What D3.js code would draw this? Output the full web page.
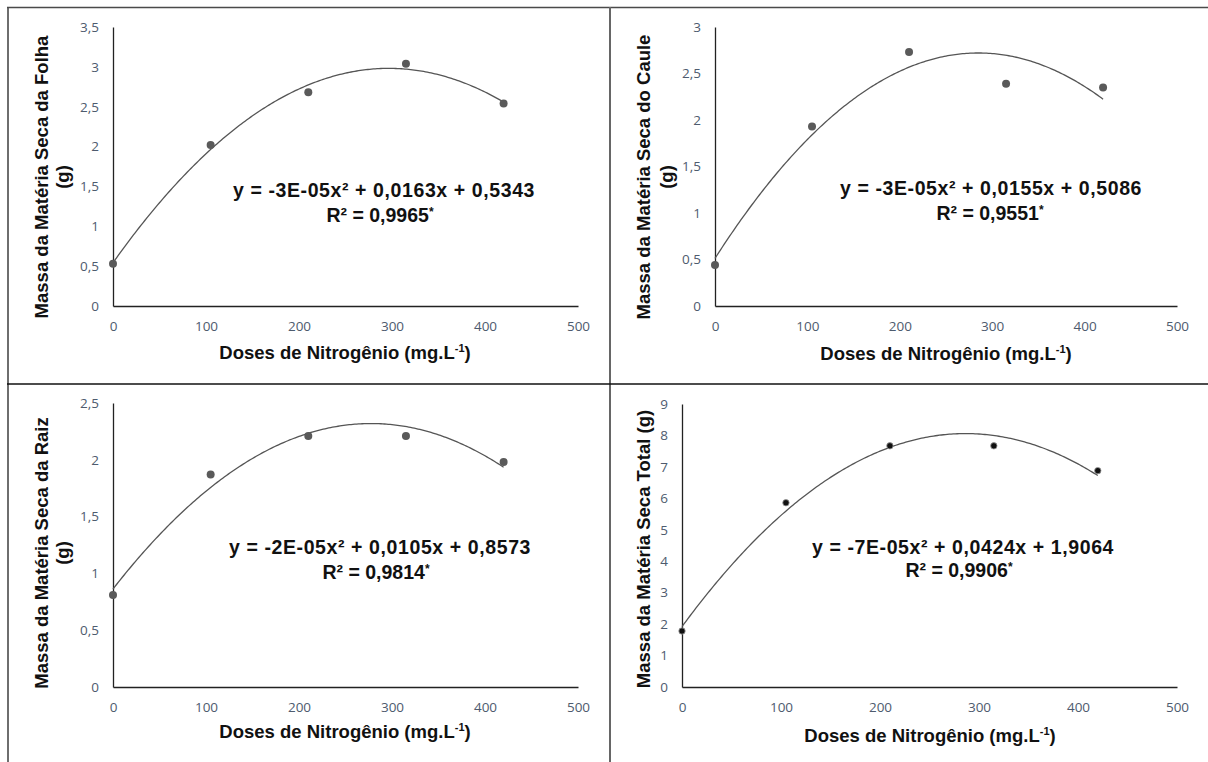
<!DOCTYPE html>
<html>
<head>
<meta charset="utf-8">
<script src="https://cdn.jsdelivr.net/npm/d3@7"></script>
<style>
  body { margin: 0; background: #fff; }
</style>
</head>
<body>
<div id="chart"></div>
<script>
// Doses de nitrogênio (mg.L-1)
const doses = [0, 105, 210, 315, 420]

// Massa seca (g)
const folha = [0.53, 2.02, 2.68, 3.04, 2.54]
const caule = [0.44, 1.93, 2.73, 2.39, 2.35]
const raiz = [0.81, 1.87, 2.21, 2.21, 1.98]
const total = [1.78, 5.86, 7.67, 7.67, 6.88]

const xTicks = [0, 100, 200, 300, 400, 500]
const yTicksFolha = [0, 0.5, 1, 1.5, 2, 2.5, 3, 3.5]
const yTicksCaule = [0, 0.5, 1, 1.5, 2, 2.5, 3]
const yTicksRaiz = [0, 0.5, 1, 1.5, 2, 2.5]
const yTicksTotal = [0, 1, 2, 3, 4, 5, 6, 7, 8, 9]

const equations = [
  'y = -3E-05x² + 0,0163x + 0,5343',
  'y = -3E-05x² + 0,0155x + 0,5086',
  'y = -2E-05x² + 0,0105x + 0,8573',
  'y = -7E-05x² + 0,0424x + 1,9064'
]
const r2Labels = ['R² = 0,9965*', 'R² = 0,9551*', 'R² = 0,9814*', 'R² = 0,9906*']
const yTitles = [
  ['Massa da Matéria Seca da Folha', '(g)'],
  ['Massa da Matéria Seca do Caule', '(g)'],
  ['Massa da Matéria Seca da Raiz', '(g)'],
  ['Massa da Matéria Seca Total (g)']
]

const width = 1208
const height = 762

// layout of each panel (pixel positions)
const panels = [
  { values: folha, ticks: yTicksFolha, x0: 113, x1: 578, y0: 306, y1: 27,
    titleX: [41, 62], titleY: 177, xTitle: [345, 352], eq: [384, 190], r2: [380, 215],
    dot: '#5a5a5a', r: 4 },
  { values: caule, ticks: yTicksCaule, x0: 715, x1: 1177, y0: 306, y1: 27,
    titleX: [643, 666], titleY: 177, xTitle: [946, 353], eq: [991, 188], r2: [990, 213],
    dot: '#5a5a5a', r: 4 },
  { values: raiz, ticks: yTicksRaiz, x0: 113, x1: 578, y0: 687, y1: 403,
    titleX: [41, 62], titleY: 553, xTitle: [345, 731], eq: [380, 547], r2: [376, 572],
    dot: '#5a5a5a', r: 4 },
  { values: total, ticks: yTicksTotal, x0: 682, x1: 1177, y0: 687, y1: 404,
    titleX: [643], titleY: 549, xTitle: [930, 735], eq: [963, 547], r2: [959, 570],
    dot: '#111', r: 3.2 }
]

// least-squares quadratic fit y = a x² + b x + c
function fitQuadratic(xs, ys) {
  let n = xs.length, s1 = 0, s2 = 0, s3 = 0, s4 = 0, t0 = 0, t1 = 0, t2 = 0
  xs.forEach((x, i) => {
    const y = ys[i]
    s1 += x; s2 += x * x; s3 += x * x * x; s4 += x * x * x * x
    t0 += y; t1 += x * y; t2 += x * x * y
  })
  const det = (m) =>
    m[0][0] * (m[1][1] * m[2][2] - m[1][2] * m[2][1]) -
    m[0][1] * (m[1][0] * m[2][2] - m[1][2] * m[2][0]) +
    m[0][2] * (m[1][0] * m[2][1] - m[1][1] * m[2][0])
  const M = [[s4, s3, s2], [s3, s2, s1], [s2, s1, n]]
  const D = det(M)
  const a = det([[t2, s3, s2], [t1, s2, s1], [t0, s1, n]]) / D
  const b = det([[s4, t2, s2], [s3, t1, s1], [s2, t0, n]]) / D
  const c = det([[s4, s3, t2], [s3, s2, t1], [s2, s1, t0]]) / D
  return (x) => a * x * x + b * x + c
}

const svg = d3.select('#chart').append('svg').attr('width', width).attr('height', height)

// frame lines
svg.append('line').attr('x1', 7).attr('y1', 7.5).attr('x2', width).attr('y2', 7.5)
  .attr('stroke', '#4a4a4a').attr('stroke-width', 1.6)
svg.append('line').attr('x1', 8).attr('y1', 7).attr('x2', 8).attr('y2', height)
  .attr('stroke', '#4a4a4a').attr('stroke-width', 1.6)
svg.append('line').attr('x1', 610).attr('y1', 7).attr('x2', 610).attr('y2', height)
  .attr('stroke', '#666').attr('stroke-width', 2)
svg.append('line').attr('x1', 7).attr('y1', 384).attr('x2', width).attr('y2', 384)
  .attr('stroke', '#111').attr('stroke-width', 1.5)

const boldFont = "'Liberation Sans', Arial, sans-serif"
const tickFont = "'Open Sans', sans-serif"

panels.forEach((p, i) => {
  const g = svg.append('g')
  const x = d3.scaleLinear().domain([0, 500]).range([p.x0, p.x1])
  const y = d3.scaleLinear().domain([0, d3.max(p.ticks)]).range([p.y0, p.y1])
  const fmt = (d) => String(d).replace('.', ',')

  // axes
  const xAxis = g.append('g').attr('transform', `translate(0,${p.y0})`)
    .call(d3.axisBottom(x).tickValues(xTicks).tickSize(0).tickPadding(15).tickFormat(fmt))
  const yAxis = g.append('g').attr('transform', `translate(${p.x0},0)`)
    .call(d3.axisLeft(y).tickValues(p.ticks).tickSize(0).tickPadding(14).tickFormat(fmt))
  ;[xAxis, yAxis].forEach((a) => {
    a.select('.domain').attr('stroke', '#222').attr('stroke-width', 1.3)
    a.selectAll('text').attr('font-family', tickFont).attr('font-size', 13.5).attr('fill', '#4e5b6e')
  })

  // trend line
  const f = fitQuadratic(doses, p.values)
  const xs = d3.range(0, 420.1, 2)
  g.append('path')
    .datum(xs)
    .attr('fill', 'none')
    .attr('stroke', '#555')
    .attr('stroke-width', 1.3)
    .attr('d', d3.line().x((d) => x(d)).y((d) => y(f(d))))

  // points
  g.selectAll('circle.pt')
    .data(p.values)
    .join('circle')
    .attr('class', 'pt')
    .attr('cx', (d, j) => x(doses[j]))
    .attr('cy', (d) => y(d))
    .attr('r', p.r)
    .attr('fill', p.dot)
    .attr('stroke', i === 3 ? '#999' : 'none')
    .attr('stroke-width', 0.8)

  // y title
  yTitles[i].forEach((line, k) => {
    g.append('text')
      .attr('transform', `translate(${p.titleX[k]},${p.titleY}) rotate(-90)`)
      .attr('text-anchor', 'middle')
      .attr('dy', '0.36em')
      .attr('font-family', boldFont)
      .attr('font-weight', 'bold')
      .attr('font-size', 18.5)
      .attr('fill', '#111')
      .text(line)
  })

  // x title
  const xt = g.append('text')
    .attr('x', p.xTitle[0])
    .attr('y', p.xTitle[1])
    .attr('dy', '0.36em')
    .attr('text-anchor', 'middle')
    .attr('font-family', boldFont)
    .attr('font-weight', 'bold')
    .attr('font-size', 18.5)
    .attr('fill', '#111')
  xt.append('tspan').text('Doses de Nitrogênio (mg.L')
  xt.append('tspan').attr('font-size', 11).attr('dy', -7).text('-1')
  xt.append('tspan').attr('dy', 7).text(')')

  // equation and R²
  g.append('text')
    .attr('x', p.eq[0]).attr('y', p.eq[1]).attr('dy', '0.36em')
    .attr('text-anchor', 'middle')
    .attr('font-family', boldFont).attr('font-weight', 'bold')
    .attr('font-size', 19.5).attr('letter-spacing', 0.6)
    .attr('fill', '#111')
    .text(equations[i])
  const r2 = g.append('text')
    .attr('x', p.r2[0]).attr('y', p.r2[1]).attr('dy', '0.36em')
    .attr('text-anchor', 'middle')
    .attr('font-family', boldFont).attr('font-weight', 'bold')
    .attr('font-size', 19.5)
    .attr('fill', '#111')
  r2.append('tspan').text(r2Labels[i].replace('*', ''))
  r2.append('tspan').attr('font-size', 12).attr('dy', -6).text('*')
})
</script>
</body>
</html>
